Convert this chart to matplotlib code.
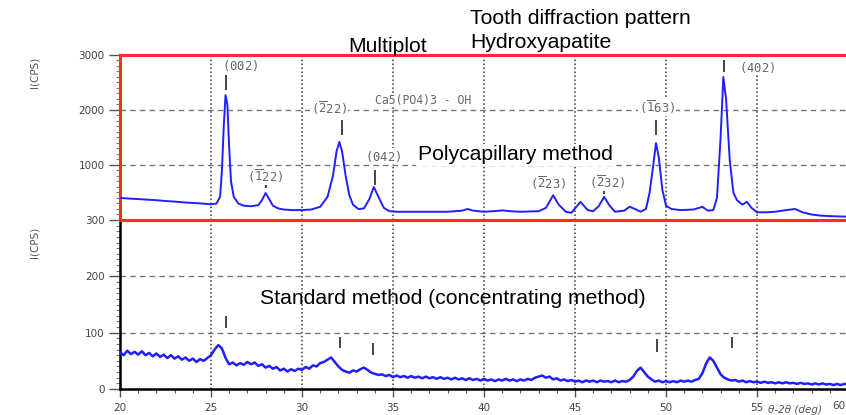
import numpy as np
import matplotlib
matplotlib.use("Agg")
import matplotlib.pyplot as plt
from matplotlib.ticker import MultipleLocator

# ---------------- data ----------------
# Polycapillary method (top panel), 2theta (deg) and intensity (CPS)
poly_x = [20.0, 20.5, 21.0, 21.5, 22.0, 22.5, 23.0, 23.5, 24.0, 24.5, 25.0, 25.3, 25.5, 25.6,
          25.7, 25.8, 25.9, 26.0, 26.1, 26.25, 26.5, 26.8, 27.2, 27.6, 27.8, 28.0, 28.2, 28.4,
          28.7, 29.0, 29.5, 30.0, 30.5, 31.0, 31.4, 31.7, 31.9, 32.05, 32.2, 32.4, 32.6, 32.8,
          33.1, 33.4, 33.7, 33.95, 34.2, 34.5, 34.8, 35.2, 36.0, 37.0, 38.0, 38.8, 39.1, 39.4,
          40.0, 40.7, 41.0, 41.4, 42.0, 43.0, 43.4, 43.8, 44.1, 44.5, 44.8, 45.3, 45.7, 46.0,
          46.3, 46.6, 46.9, 47.2, 47.7, 48.0, 48.3, 48.6, 48.9, 49.1, 49.3, 49.45, 49.6, 49.8,
          50.0, 50.3, 50.8, 51.5, 52.0, 52.3, 52.6, 52.8, 53.0, 53.15, 53.3, 53.5, 53.7, 53.9,
          54.2, 54.45, 54.7, 55.0, 55.5, 56.0, 56.6, 57.1, 57.5, 58.0, 58.5, 59.0, 60.0]
poly_y = [400, 390, 380, 370, 360, 345, 335, 320, 310, 300, 285, 300, 420, 900,
          1700, 2270, 2100, 1300, 700, 420, 300, 260, 250, 270, 360, 490, 380, 260,
          210, 190, 180, 180, 190, 240, 420, 800, 1250, 1420, 1250, 800, 450, 280,
          200, 210, 380, 600, 420, 220, 160, 150, 150, 150, 150, 170, 200, 170,
          150, 165, 175, 160, 150, 160, 220, 450, 280, 150, 130, 330, 180, 160,
          250, 420, 260, 150, 170, 240, 200, 150, 200, 500, 1000, 1400, 1150, 550,
          260, 200, 180, 190, 240, 170, 180, 400, 1500, 2600, 2200, 1100, 500, 360,
          280, 330, 220, 140, 140, 150, 180, 200, 140, 100, 80, 70, 60]

# Standard (concentrating) method (bottom panel), sampled every 0.2 deg from 20 to 60
std_x = np.round(np.arange(20.0, 60.001, 0.2), 1)
std_y = [65, 60, 68, 62, 66, 61, 67, 60, 64, 58,
         63, 57, 61, 55, 60, 54, 58, 52, 56, 50,
         54, 48, 53, 50, 55, 60, 70, 78, 72, 55,
         44, 47, 42, 46, 43, 48, 44, 47, 41, 44,
         38, 41, 36, 39, 33, 36, 31, 35, 32, 36,
         34, 39, 36, 42, 40, 46, 48, 52, 56, 48,
         40, 34, 31, 29, 33, 31, 35, 38, 34, 29,
         27, 25, 26, 23, 25, 21, 24, 21, 23, 20,
         23, 20, 22, 19, 22, 19, 21, 18, 21, 18,
         20, 17, 20, 17, 19, 16, 19, 16, 18, 15,
         18, 15, 17, 14, 17, 15, 18, 15, 17, 14,
         17, 15, 18, 16, 20, 22, 24, 20, 22, 17,
         19, 15, 17, 14, 16, 13, 15, 12, 15, 13,
         15, 12, 15, 13, 14, 12, 15, 12, 14, 13,
         16, 22, 32, 38, 30, 22, 17, 13, 15, 12,
         14, 12, 14, 12, 15, 13, 15, 13, 16, 18,
         28, 45, 56, 50, 38, 26, 20, 17, 15, 16,
         13, 15, 12, 14, 12, 13, 11, 13, 11, 12,
         10, 12, 10, 12, 10, 11, 9, 11, 9, 10,
         8, 10, 8, 10, 8, 9, 7, 9, 7, 9, 8]

# Peak labels (top panel)
peak_labels = [r"$\mathtt{(002)}$",
               r"$\mathtt{(}\overline{\mathtt{1}}\mathtt{22)}$",
               r"$\mathtt{(}\overline{\mathtt{2}}\mathtt{22)}$",
               r"$\mathtt{(042)}$",
               r"$\mathtt{(}\overline{\mathtt{2}}\mathtt{23)}$",
               r"$\mathtt{(}\overline{\mathtt{2}}\mathtt{32)}$",
               r"$\mathtt{(}\overline{\mathtt{1}}\mathtt{63)}$",
               r"$\mathtt{(402)}$"]
peak_label_x = [26.6, 28.0, 31.5, 34.45, 43.5, 46.75, 49.5, 55.0]
peak_label_y = [2818, 800, 2036, 1163, 670, 690, 2054, 2780]

# reference marks (vertical bars)
top_mark_x = [25.8, 28.0, 32.2, 34.0, 46.6, 49.45, 53.2]
top_mark_lo = [2363, 580, 1545, 636, 470, 1545, 2690]
top_mark_hi = [2636, 690, 1820, 910, 560, 1820, 2900]
bot_mark_x = [25.8, 32.1, 33.9, 49.5, 53.6]
bot_mark_lo = [109, 73, 61, 66, 73]
bot_mark_hi = [129, 93, 82, 88, 93]

top_yticks = [1000, 2000, 3000]
bot_yticks = [0, 100, 200, 300]
xticks = [20, 25, 30, 35, 40, 45, 50, 55, 60]

# ---------------- figure ----------------
W, H = 846, 415
fig = plt.figure(figsize=(W / 100, H / 100), dpi=100)
left = 120 / W
width = (848 - 120) / W
ax2 = fig.add_axes([left, (H - 389) / H, width, (389 - 220) / H])
ax1 = fig.add_axes([left, (H - 220) / H, width, 165 / H])
ax1.set_zorder(3)
ax1.patch.set_alpha(0)
ax2.set_zorder(2)

blue = (0.12, 0.12, 1.0)
red = '#ff2a2a'
tickfont = dict(family='DejaVu Sans', size=7.5, color='#444444')

for ax in (ax1, ax2):
    ax.set_xlim(20, 60)
    for xv in [25, 30, 35, 40, 45, 50, 55]:
        ax.axvline(xv, color='#333333', lw=1.1, ls=(0, (1, 1.6)), zorder=1)

ax1.set_ylim(0, 3000)
ax2.set_ylim(0, 300)
for yv in [1000, 2000]:
    ax1.axhline(yv, color='#777777', lw=1.0, ls=(0, (4, 3)), zorder=1)
for yv in [100, 200]:
    ax2.axhline(yv, color='#777777', lw=1.0, ls=(0, (4, 3)), zorder=1)

ax1.plot(poly_x, poly_y, color=blue, lw=1.4, zorder=3)
ax2.plot(std_x, std_y, color=blue, lw=1.8, zorder=3)

# spines
for s in ['top', 'bottom', 'left']:
    ax1.spines[s].set_color(red)
    ax1.spines[s].set_linewidth(2.2)
ax1.spines['right'].set_visible(False)
ax2.spines['top'].set_visible(False)
ax2.spines['right'].set_visible(False)
for s in ['left', 'bottom']:
    ax2.spines[s].set_color('black')
    ax2.spines[s].set_linewidth(1.8)

# ticks
ax1.set_yticks(top_yticks)
ax1.set_yticklabels([str(v) for v in top_yticks], fontdict=tickfont)
ax1.yaxis.set_minor_locator(MultipleLocator(100))
ax1.tick_params(axis='x', which='both', bottom=False, labelbottom=False)
ax2.set_yticks(bot_yticks)
ax2.set_yticklabels([str(v) for v in bot_yticks], fontdict=tickfont)
ax2.yaxis.set_minor_locator(MultipleLocator(10))
ax2.set_xticks(xticks)
# last label (60) sits at the right edge of the figure: drawn separately, right-aligned
ax2.set_xticklabels([str(v) for v in xticks[:-1]] + [''], fontdict=tickfont)
ax2.xaxis.set_minor_locator(MultipleLocator(1))
for ax in (ax1, ax2):
    ax.tick_params(axis='y', which='major', length=8, width=1.0, color='#555555', pad=3)
    ax.tick_params(axis='y', which='minor', length=3, width=0.8, color='#777777')
ax2.tick_params(axis='x', which='major', length=6, width=1.0, color='#555555', pad=4)
ax2.tick_params(axis='x', which='minor', length=3, width=0.8, color='#555555')
fig.text(845 / W, 1 - 406 / H, str(xticks[-1]), ha='right', va='center', **{
    'family': 'DejaVu Sans', 'fontsize': 7.5, 'color': '#444444'})

# marks
ax1.vlines(top_mark_x, top_mark_lo, top_mark_hi, color='#444444', lw=1.4, zorder=4)
ax2.vlines(bot_mark_x, bot_mark_lo, bot_mark_hi, color='#444444', lw=1.4, zorder=4)

# peak labels
for lab, xv, yv in zip(peak_labels, peak_label_x, peak_label_y):
    ax1.text(xv, yv, lab, fontsize=8.8, color='#666666',
             ha='center', va='center', zorder=4,
             bbox=dict(facecolor='white', edgecolor='none', pad=0.5))
ax1.text(36.65, 2180, 'Ca5(PO4)3 - OH', family='DejaVu Sans Mono', fontsize=8.3,
         color='#666666', ha='center', va='center', zorder=4,
         bbox=dict(facecolor='white', edgecolor='none', pad=0.5))

big = dict(family='Liberation Sans', fontsize=15.2, color='black')
ax1.text(36.37, 1182, 'Polycapillary method', ha='left', va='center', zorder=4,
         bbox=dict(facecolor='white', edgecolor='none', pad=1), **big)
ax2.text(27.7, 161, 'Standard method (concentrating method)', ha='left', va='center',
         zorder=4, **big)
fig.text(470 / W, 1 - 18 / H, 'Tooth diffraction pattern', ha='left', va='center', **big)
fig.text(470 / W, 1 - 42 / H, 'Hydroxyapatite', ha='left', va='center', **big)
fig.text(348 / W, 1 - 46 / H, 'Multiplot', ha='left', va='center', **big)

# axis labels
fig.text(35 / W, 1 - 72 / H, 'I(CPS)', rotation=90, ha='center', va='center',
         family='DejaVu Sans', fontsize=7.5, color='#555555')
fig.text(35 / W, 1 - 242 / H, 'I(CPS)', rotation=90, ha='center', va='center',
         family='DejaVu Sans', fontsize=7.5, color='#555555')
fig.text(768 / W, 1 - 410 / H, '\u03b8-2\u03b8 (deg)', ha='left', va='center',
         family='DejaVu Sans', fontsize=7.5, color='#555555', style='italic')

fig.savefig('out.png', dpi=100)
